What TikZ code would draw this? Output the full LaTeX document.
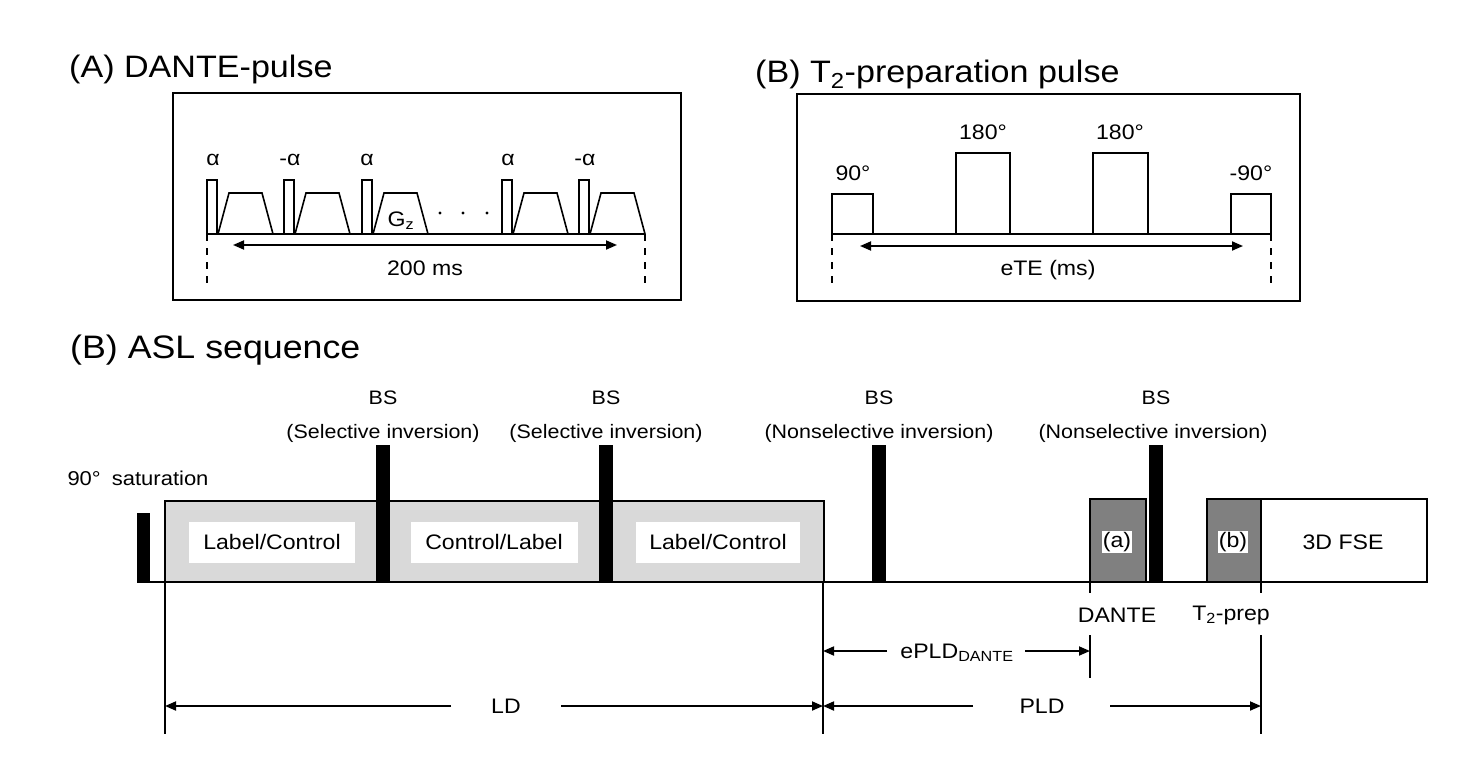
\documentclass[tikz,border=0pt]{standalone}
\usepackage{fontspec}
\setmainfont{Liberation Sans}[FakeStretch=1.1]
\usetikzlibrary{arrows.meta}
\definecolor{lgray}{HTML}{D9D9D9}
\definecolor{dgray}{HTML}{808080}
\begin{document}
\begin{tikzpicture}[x=1pt,y=-1pt,
  frame/.style={draw=black,line width=1.8pt},
  wave/.style={line width=1.6pt},
  dashv/.style={line width=1.4pt,dash pattern=on 7pt off 7pt},
  dimarr/.style={line width=1.8pt,{Triangle[length=11pt,width=9pt]}-{Triangle[length=11pt,width=9pt]}},
  onearr/.style={line width=1.8pt,-{Triangle[length=11pt,width=9pt]}},
  mainline/.style={line width=2.4pt},
  txt/.style={inner sep=0pt,font=\fontsize{21}{25}\selectfont},
  ttl/.style={inner sep=0pt,anchor=base west,font=\fontsize{31}{37}\selectfont},
  bstxt/.style={inner sep=0pt,font=\fontsize{19.5}{23}\selectfont},
  whitebox/.style={fill=white,inner sep=0pt,minimum height=41pt,font=\fontsize{21}{25}\selectfont},
  hilite/.style={fill=white,inner sep=1pt,font=\fontsize{21}{25}\selectfont},
  pulse/.style={fill=black}]
\useasboundingbox (0,0) rectangle (1482,771);

% ---------------- (A) DANTE ----------------
\node[ttl] (tA) at (69,77) {(A) DANTE-pulse};
\draw[frame] (173,93) rectangle (681,300);
\coordinate (a0) at (207,234);
\coordinate (a1) at (645,234);
\draw[wave] (a0) -- (a1);
\foreach \x in {207,284,362,502,579}{
  \draw[wave] (\x,234) -- (\x,180) -- (\x+10,180) -- (\x+10,234);
  \draw[wave] (\x+11,234) -- (\x+22,193) -- (\x+55,193) -- (\x+66,234);
}
\node[txt] (al1) at (213,160) {α};
\node[txt] (al2) at (290,160) {-α};
\node[txt] (al3) at (367,160) {α};
\node[txt] (al4) at (508,160) {α};
\node[txt] (al5) at (585,160) {-α};
\node[txt] (gz) at (401,221) {G\textsubscript{z}};
\fill (440,213) circle (1.7);
\fill (463,213) circle (1.7);
\fill (487,213) circle (1.7);
\coordinate (ad0) at (207,290);
\coordinate (ad1) at (645,290);
\draw[dashv] (a0) -- (ad0);
\draw[dashv] (a1) -- (ad1);
\coordinate (aa0) at (233,245);
\coordinate (aa1) at (617,245);
\draw[dimarr] (aa0) -- (aa1);
\node[txt] (a200) at (425,268) {200 ms};

% ---------------- (B) T2 prep ----------------
\node[ttl] (tB) at (755,82) {(B) T\textsubscript{2}-preparation pulse};
\draw[frame] (797,94) rectangle (1300,301);
\coordinate (b0) at (832,234);
\coordinate (b1) at (1271,234);
\draw[wave] (b0) -- (b1);
\draw[wave] (832,234) -- (832,194) -- (873,194) -- (873,234);
\draw[wave] (956,234) -- (956,153) -- (1010,153) -- (1010,234);
\draw[wave] (1093,234) -- (1093,153) -- (1148,153) -- (1148,234);
\draw[wave] (1231,234) -- (1231,194) -- (1271,194) -- (1271,234);
\node[txt] (b90) at (853,173) {90°};
\node[txt] (b180a) at (983,132) {180°};
\node[txt] (b180b) at (1120,132) {180°};
\node[txt] (bm90) at (1251,173) {-90°};
\coordinate (bd0) at (832,290);
\coordinate (bd1) at (1271,290);
\draw[dashv] (b0) -- (bd0);
\draw[dashv] (b1) -- (bd1);
\coordinate (ba0) at (860,246);
\coordinate (ba1) at (1243,246);
\draw[dimarr] (ba0) -- (ba1);
\node[txt] (bete) at (1048,270) {eTE (ms)};

% ---------------- ASL sequence ----------------
\node[ttl,font=\fontsize{32.5}{38}\selectfont] (tC) at (70,358) {(B) ASL sequence};

\draw[frame,fill=lgray] (165,501) rectangle (824,582);
\node[whitebox,minimum width=166pt] (lc1) at (272,542) {Label/Control};
\node[whitebox,minimum width=167pt] (cl) at (494,542) {Control/Label};
\node[whitebox,minimum width=164pt] (lc2) at (718,542) {Label/Control};

\draw[frame,fill=dgray] (1090,499) rectangle (1146,582);
\draw[frame,fill=dgray] (1207,499) rectangle (1261,582);
\draw[frame,fill=white] (1261,499) rectangle (1427,582);
\node[hilite] (pa) at (1117,542) {(a)};
\node[hilite] (pb) at (1233,542) {(b)};
\node[txt] (fse) at (1343,542) {3D FSE};

\coordinate (s0) at (137,582);
\coordinate (s1) at (1427,582);
\draw[mainline] (s0) -- (s1);

\fill[pulse] (137,513) rectangle (150,583);
\fill[pulse] (376,445) rectangle (390,583);
\fill[pulse] (599,445) rectangle (613,583);
\fill[pulse] (872,445) rectangle (886,583);
\fill[pulse] (1149,445) rectangle (1163,583);

\node[txt,font=\fontsize{20}{24}\selectfont] (sat) at (138,478) {90°\kern5pt\ saturation};
\node[bstxt] (bs1) at (383,398) {BS};
\node[bstxt] (bs1b) at (383,433) {(Selective inversion)};
\node[bstxt] (bs2) at (606,398) {BS};
\node[bstxt] (bs2b) at (606,433) {(Selective inversion)};
\node[bstxt] (bs3) at (879,398) {BS};
\node[bstxt] (bs3b) at (879,433) {(Nonselective inversion)};
\node[bstxt] (bs4) at (1156,398) {BS};
\node[bstxt] (bs4b) at (1153,433) {(Nonselective inversion)};

% ticks and verticals
\coordinate (ldL0) at (165,582);
\coordinate (ldL1) at (165,734);
\coordinate (ldR0) at (823,582);
\coordinate (ldR1) at (823,734);
\draw[mainline] (ldL0) -- (ldL1);
\draw[mainline] (ldR0) -- (ldR1);
\coordinate (dt0) at (1090,582);
\coordinate (dt1) at (1090,593);
\coordinate (dt2) at (1090,635);
\coordinate (dt3) at (1090,678);
\draw[mainline] (dt0) -- (dt1);
\draw[mainline] (dt2) -- (dt3);
\coordinate (tt0) at (1261,582);
\coordinate (tt1) at (1261,593);
\coordinate (tt2) at (1261,635);
\coordinate (tt3) at (1261,734);
\draw[mainline] (tt0) -- (tt1);
\draw[mainline] (tt2) -- (tt3);

\node[txt] (dante) at (1117,615) {DANTE};
\node[txt] (t2p) at (1231,615) {T\textsubscript{2}-prep};

% ePLD
\node[txt,anchor=base] (epld) at (957,658) {ePLD\textsubscript{DANTE}};
\coordinate (e0) at (823,651);
\coordinate (e1) at (887,651);
\coordinate (e2) at (1025,651);
\coordinate (e3) at (1090,651);
\draw[onearr] (e1) -- (e0);
\draw[onearr] (e2) -- (e3);

% PLD
\node[txt] (pld) at (1042,706) {PLD};
\coordinate (p0) at (823,706);
\coordinate (p1) at (973,706);
\coordinate (p2) at (1110,706);
\coordinate (p3) at (1261,706);
\draw[onearr] (p1) -- (p0);
\draw[onearr] (p2) -- (p3);

% LD
\node[txt] (ld) at (506,706) {LD};
\coordinate (l0) at (165,706);
\coordinate (l1) at (451,706);
\coordinate (l2) at (561,706);
\coordinate (l3) at (823,706);
\draw[onearr] (l1) -- (l0);
\draw[onearr] (l2) -- (l3);
\end{tikzpicture}
\end{document}
